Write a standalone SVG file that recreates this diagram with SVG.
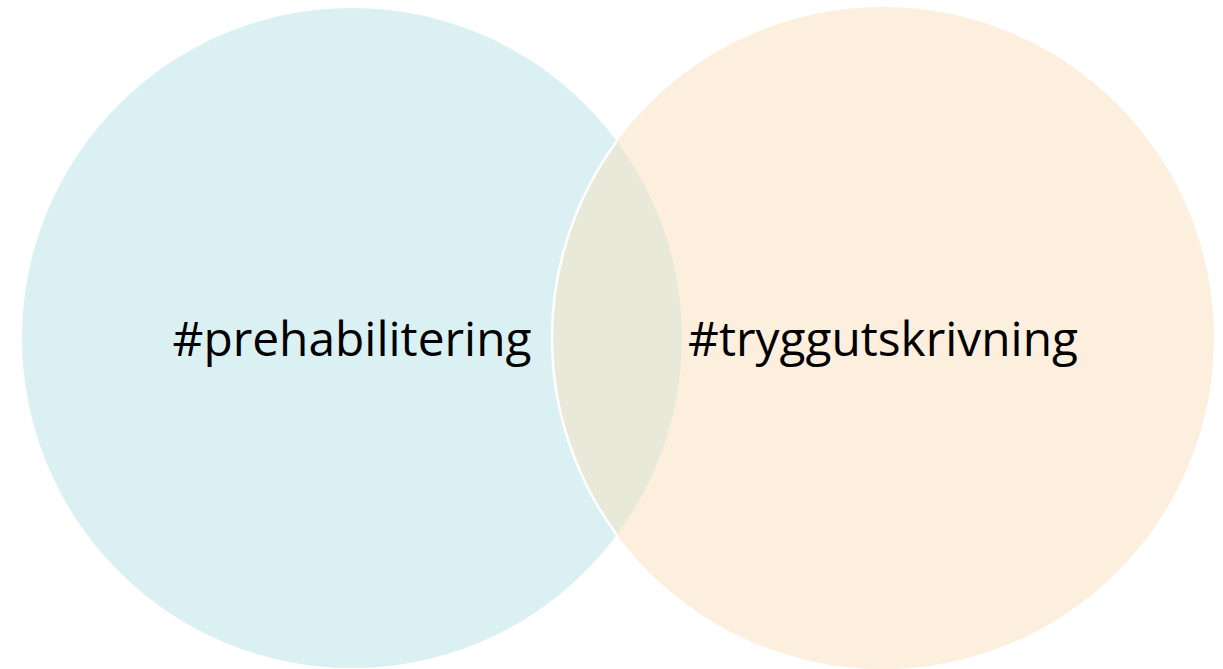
<svg xmlns="http://www.w3.org/2000/svg" width="1223" height="669" viewBox="0 0 1223 669">
  <style>
    .label { font-family: "Open Sans", "Liberation Sans", sans-serif; font-size: 47px; fill: #000000; text-anchor: middle; }
  </style>
  <defs>
    <clipPath id="clip-left">
      <circle cx="352" cy="338" r="330"/>
    </clipPath>
  </defs>
  <rect width="1223" height="669" fill="#ffffff"/>
  <g id="node-prehabilitering">
    <circle cx="352" cy="338" r="330" fill="#DAF0F3"/>
  </g>
  <g id="node-tryggutskrivning">
    <circle cx="883" cy="338" r="331" fill="#FDEFDD"/>
  </g>
  <g id="overlap">
    <circle cx="883" cy="338" r="331" fill="#E9E9DA" clip-path="url(#clip-left)"/>
    <circle cx="883" cy="338" r="331" fill="none" stroke="#ffffff" stroke-width="2.5" clip-path="url(#clip-left)"/>
  </g>
  <g id="labels">
    <text class="label" x="352" y="356" textLength="359" lengthAdjust="spacingAndGlyphs">#prehabilitering</text>
    <text class="label" x="883" y="356" textLength="390" lengthAdjust="spacingAndGlyphs">#tryggutskrivning</text>
  </g>
</svg>
